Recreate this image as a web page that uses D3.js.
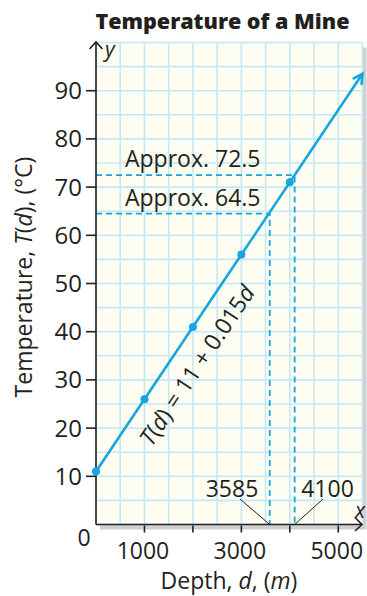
<!DOCTYPE html>
<html><head><meta charset="utf-8">
<script src="https://cdn.jsdelivr.net/npm/d3@7"></script>
<style>
body{margin:0;background:#fff;}
svg text{font-family:"Open Sans",Lato,sans-serif;fill:#231f20;}
</style></head>
<body><svg id="c" width="367" height="596"></svg>
<script>
// data
const depths = [0, 1000, 2000, 3000, 4000];
const temps = [11, 26, 41, 56, 71];
const lineEnd = [5500, 93.5];
const yTicks = [10, 20, 30, 40, 50, 60, 70, 80, 90];
const xTickMarks = [1000, 2000, 3000, 4000, 5000];
const xTickLabels = [1000, 3000, 5000];
const approxT = [72.5, 64.5];
const approxD = [4100, 3585];
const approxLabels = ["Approx. 72.5", "Approx. 64.5"];
const depthLabels = ["4100", "3585"];

const svg = d3.select("#c");
const x = d3.scaleLinear().domain([0, 5500]).range([96, 362.5]);
const y = d3.scaleLinear().domain([0, 100]).range([524.5, 42.5]);
const blue = "#16a5e1", gridC = "#c4e8f8", ink = "#231f20";
const FS = 23;

// shadow + background
svg.append("rect").attr("x", x(0) + 4).attr("y", y(100) + 5)
  .attr("width", x(5500) - x(0)).attr("height", y(0) - y(100))
  .attr("fill", "#cfcfcf");
svg.append("rect").attr("x", x(0)).attr("y", y(100))
  .attr("width", x(5500) - x(0)).attr("height", y(0) - y(100))
  .attr("fill", "#fdfdf1");

// grid
const gx = d3.range(0, 5501, 500), gy = d3.range(0, 101, 5);
svg.append("g").selectAll("line").data(gx).join("line")
  .attr("x1", d => x(d)).attr("x2", d => x(d)).attr("y1", y(0)).attr("y2", y(100))
  .attr("stroke", gridC).attr("stroke-width", 1.6);
svg.append("g").selectAll("line").data(gy).join("line")
  .attr("y1", d => y(d)).attr("y2", d => y(d)).attr("x1", x(0)).attr("x2", x(5500))
  .attr("stroke", gridC).attr("stroke-width", 1.6);

// dashed guides
const dash = svg.append("g").attr("stroke", blue).attr("stroke-width", 1.8)
  .attr("stroke-dasharray", "6,4").attr("fill", "none");
approxT.forEach((t, i) => {
  dash.append("path").attr("d", `M${x(0)},${y(t)}H${x(approxD[i])}V${y(0)}`);
});

// axes
const ax = svg.append("g").attr("stroke", ink).attr("stroke-width", 1.6).attr("fill", "none");
ax.append("line").attr("x1", x(0)).attr("x2", 362).attr("y1", y(0)).attr("y2", y(0));
ax.append("line").attr("x1", x(0)).attr("x2", x(0)).attr("y1", y(0)).attr("y2", 42);
ax.append("path").attr("d", `M355,517.5L362,${y(0)}L355,531`);
ax.append("path").attr("d", `M${x(0)-6.5},49L${x(0)},42L${x(0)+6.5},49`);
ax.selectAll(".yt").data(yTicks).join("line")
  .attr("x1", x(0) - 10).attr("x2", x(0)).attr("y1", d => y(d)).attr("y2", d => y(d));
ax.selectAll(".xt").data(xTickMarks).join("line")
  .attr("x1", d => x(d)).attr("x2", d => x(d)).attr("y1", y(0) + 1).attr("y2", y(0) + 8);

// tick labels
svg.append("g").selectAll("text").data(yTicks).join("text")
  .attr("x", 82).attr("y", d => y(d) + 8.5).attr("text-anchor", "end")
  .attr("font-size", 24).text(d => d);
svg.append("g").selectAll("text").data(xTickLabels).join("text")
  .attr("x", d => x(d) - 1.5).attr("y", 559).attr("text-anchor", "middle")
  .attr("font-size", FS).text(d => d);
svg.append("text").attr("x", 84).attr("y", 546).attr("text-anchor", "middle")
  .attr("font-size", FS).text("0");

// line + points
const line = d3.line().x(d => x(d[0])).y(d => y(d[1]));
svg.append("path").attr("d", line([[depths[0], temps[0]], lineEnd]))
  .attr("stroke", blue).attr("stroke-width", 2.6).attr("fill", "none");
const ang = Math.atan2(y(lineEnd[1]) - y(temps[0]), x(lineEnd[0]) - x(depths[0]));
const tip = [x(lineEnd[0]), y(lineEnd[1])];
const ah = (a) => [tip[0] - 11 * Math.cos(ang + a), tip[1] - 11 * Math.sin(ang + a)];
const p1 = ah(0.5), p2 = ah(-0.5);
svg.append("path").attr("d", `M${p1}L${tip}L${p2}`)
  .attr("stroke", blue).attr("stroke-width", 2.6).attr("fill", "none");
svg.append("g").selectAll("circle").data(depths).join("circle")
  .attr("cx", d => x(d)).attr("cy", (d, i) => y(temps[i])).attr("r", 4).attr("fill", blue);

// annotations
approxLabels.forEach((s, i) => {
  svg.append("text").attr("x", 125).attr("y", y(approxT[i]) - 8)
    .attr("font-size", FS).text(s);
});
svg.append("text").attr("x", 232).attr("y", 497).attr("text-anchor", "middle").attr("font-size", FS).text(depthLabels[1]);
svg.append("text").attr("x", 327.5).attr("y", 497).attr("text-anchor", "middle").attr("font-size", FS).text(depthLabels[0]);
const lead = svg.append("g").attr("stroke", ink).attr("stroke-width", 1);
lead.append("line").attr("x1", 240).attr("y1", 499).attr("x2", x(approxD[1])).attr("y2", y(0));
lead.append("line").attr("x1", 323).attr("y1", 499).attr("x2", x(approxD[0])).attr("y2", y(0));

// equation label
const dc = 1660;
const deg = ang * 180 / Math.PI;
const eq = svg.append("text")
  .attr("transform", `translate(${x(dc)},${y(11 + 0.015 * dc)}) rotate(${deg})`)
  .attr("x", 0).attr("y", 33).attr("text-anchor", "middle").attr("font-size", FS);
eq.append("tspan").attr("font-style", "italic").text("T");
eq.append("tspan").text("(");
eq.append("tspan").attr("font-style", "italic").text("d");
eq.append("tspan").text(") = 11 + 0.015");
eq.append("tspan").attr("font-style", "italic").text("d");

// axis variable letters
svg.append("text").attr("x", 355).attr("y", 518).attr("text-anchor", "start")
  .attr("font-size", 21).attr("font-style", "italic").text("x");
svg.append("text").attr("x", 105).attr("y", 57)
  .attr("font-size", 21).attr("font-style", "italic").text("y");

// titles
svg.append("text").attr("x", 222.5).attr("y", 28.5).attr("text-anchor", "middle")
  .attr("font-size", 21.5).attr("font-weight", 800).text("Temperature of a Mine");
const xl = svg.append("text").attr("x", 229).attr("y", 589).attr("text-anchor", "middle").attr("font-size", FS);
xl.append("tspan").text("Depth, ");
xl.append("tspan").attr("font-style", "italic").text("d");
xl.append("tspan").text(", (");
xl.append("tspan").attr("font-style", "italic").text("m");
xl.append("tspan").text(")");
const yl = svg.append("text").attr("transform", "translate(32,277) rotate(-90)")
  .attr("text-anchor", "middle").attr("font-size", FS);
yl.append("tspan").text("Temperature, ");
yl.append("tspan").attr("font-style", "italic").text("T");
yl.append("tspan").text("(");
yl.append("tspan").attr("font-style", "italic").text("d");
yl.append("tspan").text("), (°C)");
</script></body></html>
